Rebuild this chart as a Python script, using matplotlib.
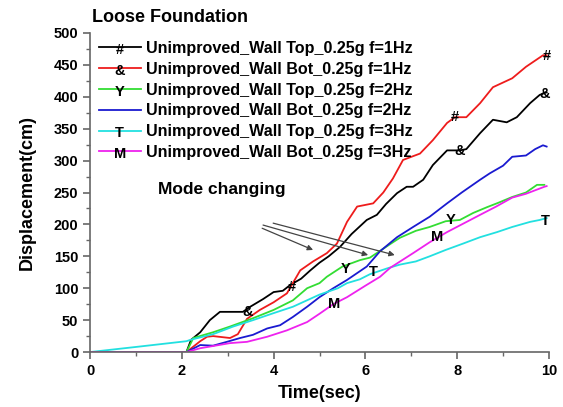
import numpy as np
import matplotlib
matplotlib.use("Agg")
import matplotlib.pyplot as plt
from matplotlib.text import Text
from matplotlib.legend_handler import HandlerLine2D
from matplotlib.ticker import MultipleLocator

plt.rcParams['font.family'] = ['Liberation Sans', 'DejaVu Sans']
plt.rcParams['font.weight'] = 'bold'

# wall displacement histories, loose foundation, 0.25g input
t_top1 = [0, 2.1, 2.2, 2.4, 2.61, 2.83, 3.05, 3.33, 3.49, 3.77, 4.0, 4.2, 4.36, 4.6, 4.8,
          5.0, 5.2, 5.45, 5.7, 6.03, 6.25, 6.45, 6.69, 6.9, 7.04, 7.26, 7.47, 7.78, 8.06,
          8.2, 8.5, 8.78, 9.08, 9.3, 9.59, 9.8, 9.95]
d_top1 = [0, 0, 19, 31, 50, 63, 63, 63, 71, 83, 94, 96, 105, 115, 128,
          140, 150, 165, 185, 207, 215, 232, 249, 259, 259, 270, 293, 316, 316,
          318, 343, 364, 360, 368, 390, 403, 407]

t_bot1 = [0, 2.1, 2.4, 2.55, 2.68, 3.05, 3.22, 3.42, 3.7, 4.0, 4.29, 4.58, 4.86, 5.16,
          5.38, 5.6, 5.82, 6.17, 6.39, 6.6, 6.82, 7.19, 7.47, 7.78, 7.95, 8.2, 8.5, 8.78,
          9.2, 9.5, 9.87, 9.95]
d_bot1 = [0, 0, 17, 24, 25, 22, 28, 52, 66, 78, 92, 128, 142, 155,
          170, 204, 228, 233, 250, 272, 301, 311, 332, 359, 368, 368, 390, 415,
          429, 447, 465, 465]

t_top2 = [0, 2.1, 2.25, 2.68, 3.05, 3.55, 4.0, 4.42, 4.73, 5.0, 5.16, 5.5, 5.88, 6.1,
          6.6, 6.75, 7.1, 7.4, 7.75, 8.06, 8.35, 8.65, 8.9, 9.2, 9.5, 9.74, 9.9]
d_top2 = [0, 0, 22, 31, 40, 53, 66, 81, 100, 108, 118, 134, 144, 148,
          172, 179, 190, 196, 205, 207, 218, 227, 234, 243, 250, 262, 262]

t_bot2 = [0, 2.1, 2.4, 2.68, 2.98, 3.27, 3.55, 3.86, 4.14, 4.42, 4.73, 5.0, 5.3, 5.6,
          6.03, 6.32, 6.69, 7.04, 7.4, 7.78, 8.1, 8.5, 8.71, 9.0, 9.2, 9.5, 9.7, 9.87, 9.95]
d_bot2 = [0, 0, 11, 10, 16, 22, 27, 37, 42, 55, 71, 86, 100, 113,
          134, 158, 180, 196, 212, 233, 250, 270, 280, 292, 306, 308, 318, 324, 322]

t_top3 = [0, 1.0, 2.1, 2.18, 2.68, 3.12, 3.55, 4.0, 4.42, 5.0, 5.4, 5.6, 5.88, 6.1,
          6.47, 6.75, 7.1, 7.4, 7.75, 8.13, 8.5, 8.87, 9.2, 9.59, 9.8, 9.95]
d_top3 = [0, 8, 17, 19, 28, 40, 50, 61, 71, 90, 100, 108, 114, 122,
          131, 137, 142, 150, 160, 170, 180, 188, 196, 204, 207, 210]

t_bot3 = [0, 2.1, 2.4, 3.05, 3.42, 3.86, 4.29, 4.73, 5.0, 5.3, 5.6, 6.0, 6.32, 6.54,
          7.04, 7.4, 7.78, 8.1, 8.5, 8.85, 9.2, 9.5, 9.9, 9.95]
d_bot3 = [0, 0, 6, 14, 16, 24, 34, 47, 60, 75, 86, 104, 118, 132,
          155, 172, 188, 200, 215, 228, 242, 248, 259, 260]

labels = ['Unimproved_Wall Top_0.25g f=1Hz', 'Unimproved_Wall Bot_0.25g f=1Hz',
          'Unimproved_Wall Top_0.25g f=2Hz', 'Unimproved_Wall Bot_0.25g f=2Hz',
          'Unimproved_Wall Top_0.25g f=3Hz', 'Unimproved_Wall Bot_0.25g f=3Hz']
symbols = ['#', '&', 'Y', '', 'T', 'M']
colors = ['black', '#ee1c1c', '#33dd33', '#1a1ad0', '#22e0e0', '#ee22ee']

series = [(t_top1, d_top1), (t_bot1, d_bot1), (t_top2, d_top2),
          (t_bot2, d_bot2), (t_top3, d_top3), (t_bot3, d_bot3)]

# symbol labels written along the curves
tags = [('#', 4.4, 104), ('#', 7.95, 370), ('#', 9.95, 467),
        ('&', 3.44, 65), ('&', 8.06, 318), ('&', 9.9, 407),
        ('Y', 5.56, 132), ('Y', 7.85, 210),
        ('T', 6.17, 128), ('T', 9.93, 208),
        ('M', 5.32, 78), ('M', 7.56, 183)]

# "mode changing" pointers: (x0, y0, x1, y1)
pointers = [(3.75, 194, 4.86, 160), (3.77, 199, 6.06, 152), (3.99, 202, 6.64, 152)]


class HandlerSymbol(HandlerLine2D):
    """Legend line with a character drawn on its middle."""

    def __init__(self, sym, **kw):
        super().__init__(**kw)
        self.sym = sym

    def create_artists(self, legend, orig_handle, xdescent, ydescent, width, height,
                       fontsize, trans):
        arts = super().create_artists(legend, orig_handle, xdescent, ydescent,
                                      width, height, fontsize, trans)
        if self.sym:
            t = Text(width / 2 - xdescent, (height - ydescent) / 2 - 1.0, self.sym,
                     ha='center', va='center_baseline', fontsize=10.5,
                     fontweight='bold', color='k', transform=trans)
            arts.append(t)
        return arts


fig = plt.figure(figsize=(5.63, 4.07), dpi=100)
ax = fig.add_axes([0.16, 0.135, 0.815, 0.784])

handles = []
for (t, d), c, lab in zip(series, colors, labels):
    h, = ax.plot(t, d, color=c, lw=1.3, label=lab)
    handles.append(h)

for s, x, y in tags:
    ax.text(x, y, s, ha='center', va='center_baseline', fontsize=10.5,
            fontweight='bold', color='k')

for x0, y0, x1, y1 in pointers:
    ax.annotate('', xy=(x1, y1), xytext=(x0, y0),
                arrowprops=dict(arrowstyle='-|>', color='#444444', lw=0.9,
                                mutation_scale=8, shrinkA=0, shrinkB=0))

ax.text(1.48, 254, 'Mode changing', fontsize=12.5, fontweight='bold', va='center')
fig.text(92 / 563, 1 - 18 / 407, 'Loose Foundation', fontsize=13, fontweight='bold',
         va='center', ha='left')

hmap = {h: HandlerSymbol(s) for h, s in zip(handles, symbols)}
ax.legend(handles, labels, handler_map=hmap, loc='upper left',
          bbox_to_anchor=(0.012, 0.985), frameon=False, fontsize=11.6,
          handlelength=2.6, handletextpad=0.3, labelspacing=0.36,
          borderaxespad=0, borderpad=0.2)

ax.set_xlim(0, 10)
ax.set_ylim(0, 500)
ax.xaxis.set_major_locator(MultipleLocator(2))
ax.xaxis.set_minor_locator(MultipleLocator(1))
ax.yaxis.set_major_locator(MultipleLocator(50))
ax.yaxis.set_minor_locator(MultipleLocator(25))
for side in ('top', 'right'):
    ax.spines[side].set_visible(False)
for side in ('left', 'bottom'):
    ax.spines[side].set_color('#666666')
    ax.spines[side].set_linewidth(1.2)
ax.tick_params(which='major', direction='out', length=5, width=1.2, color='#666666',
               labelsize=10.5)
ax.tick_params(which='minor', direction='out', length=3, width=1.0, color='#666666')
for lab in ax.get_xticklabels() + ax.get_yticklabels():
    lab.set_fontweight('bold')

ax.set_xlabel('Time(sec)', fontsize=13, fontweight='bold', labelpad=5)
ax.set_ylabel('Displacement(cm)', fontsize=13, fontweight='bold', labelpad=13)

fig.savefig('out.png', dpi=100)
